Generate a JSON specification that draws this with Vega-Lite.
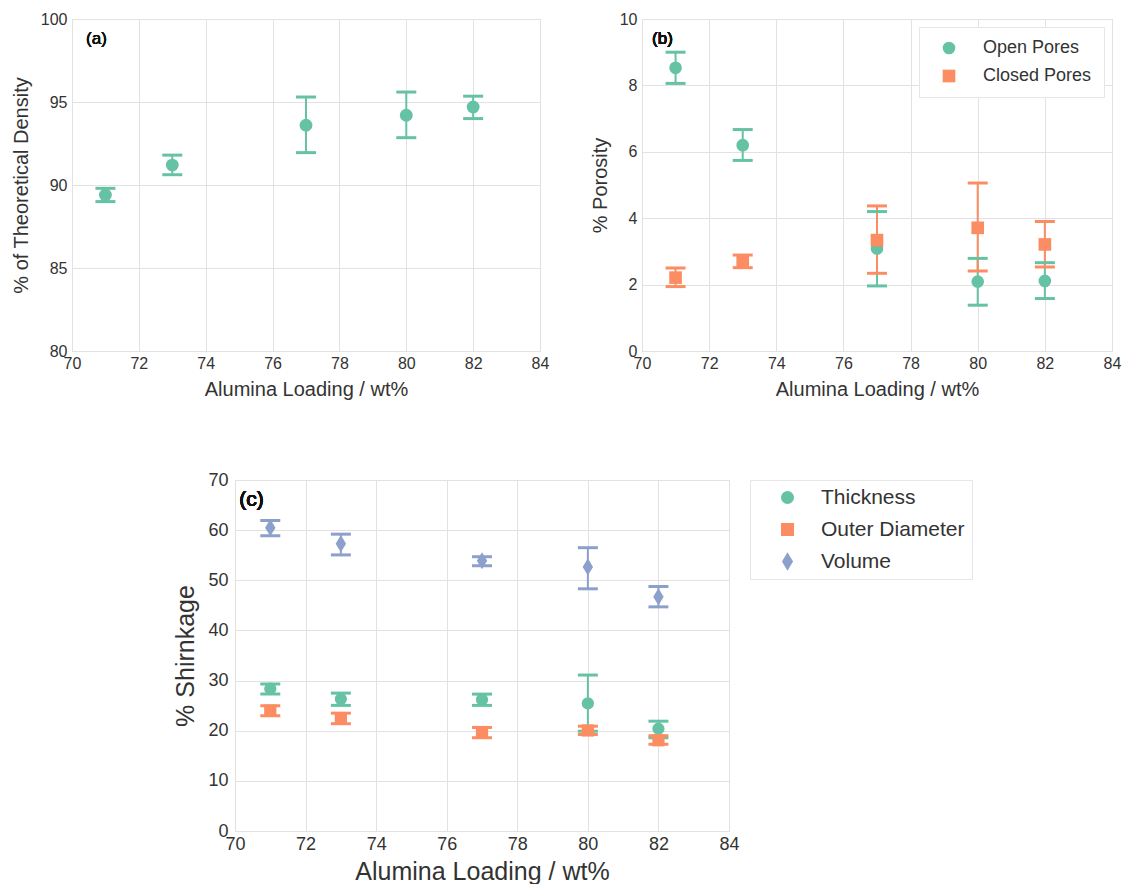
{
  "$schema": "https://vega.github.io/schema/vega-lite/v6.json",
  "padding": {"left": 10, "top": 10, "right": 5, "bottom": 5},
  "background": "white",
  "spacing": 70,
  "resolve": {"scale": {"color": "independent", "shape": "independent", "fill": "independent", "stroke": "independent"}, "legend": {"color": "independent", "shape": "independent"}},
  "vconcat": [
    {
      "resolve": {"scale": {"color": "independent", "shape": "independent", "fill": "independent", "stroke": "independent"}, "legend": {"color": "independent", "shape": "independent"}},
      "hconcat": [
        {
          "width": 468,
          "height": 332,
          "data": {"values": [
            {"x": 71, "y": 89.4, "lo": 89.0, "hi": 89.8},
            {"x": 73, "y": 91.2, "lo": 90.62, "hi": 91.8},
            {"x": 77, "y": 93.6, "lo": 91.95, "hi": 95.3},
            {"x": 80, "y": 94.2, "lo": 92.85, "hi": 95.6},
            {"x": 82, "y": 94.7, "lo": 94.0, "hi": 95.35}
          ]},
          "encoding": {
            "x": {"field": "x", "type": "quantitative", "scale": {"domain": [70, 84], "nice": false, "zero": false},
                  "axis": {"values": [70, 72, 74, 76, 78, 80, 82, 84], "title": "Alumina Loading / wt%", "labelFontSize": 16, "titleFontSize": 20, "labelPadding": 4, "titlePadding": 8}}
          },
          "layer": [
            {"mark": {"type": "rule", "strokeWidth": 2, "color": "#66c2a5"},
             "encoding": {"y": {"field": "lo", "type": "quantitative", "scale": {"domain": [80, 100], "nice": false, "zero": false},
                               "axis": {"values": [80, 85, 90, 95, 100], "title": "% of Theoretical Density", "labelFontSize": 16, "titleFontSize": 20, "labelPadding": 5, "titlePadding": 9}},
                          "y2": {"field": "hi"}}},
            {"mark": {"type": "tick", "orient": "horizontal", "size": 20, "thickness": 3, "color": "#66c2a5", "opacity": 1},
             "encoding": {"y": {"field": "lo", "type": "quantitative"}}},
            {"mark": {"type": "tick", "orient": "horizontal", "size": 20, "thickness": 3, "color": "#66c2a5", "opacity": 1},
             "encoding": {"y": {"field": "hi", "type": "quantitative"}}},
            {"mark": {"type": "point", "filled": true, "size": 165, "opacity": 1, "color": "#66c2a5", "shape": "circle"},
             "encoding": {"y": {"field": "y", "type": "quantitative"}}},
            {"mark": {"type": "text", "text": "(a)", "align": "left", "baseline": "middle", "font": "Liberation Sans", "fontWeight": "normal", "fontSize": 17, "color": "#111111"},
             "encoding": {"x": {"datum": 70.42, "type": "quantitative"}, "y": {"datum": 98.8, "type": "quantitative"}}}
          ]
        },
        {
          "width": 470,
          "height": 332,
          "data": {"values": [
            {"series": "Open Pores", "x": 71, "y": 8.53, "lo": 8.06, "hi": 9.0},
            {"series": "Open Pores", "x": 73, "y": 6.2, "lo": 5.74, "hi": 6.67},
            {"series": "Open Pores", "x": 77, "y": 3.09, "lo": 1.96, "hi": 4.2},
            {"series": "Open Pores", "x": 80, "y": 2.09, "lo": 1.38, "hi": 2.79},
            {"series": "Open Pores", "x": 82, "y": 2.11, "lo": 1.58, "hi": 2.66},
            {"series": "Closed Pores", "x": 71, "y": 2.21, "lo": 1.94, "hi": 2.5},
            {"series": "Closed Pores", "x": 73, "y": 2.7, "lo": 2.51, "hi": 2.89},
            {"series": "Closed Pores", "x": 77, "y": 3.34, "lo": 2.34, "hi": 4.37},
            {"series": "Closed Pores", "x": 80, "y": 3.71, "lo": 2.41, "hi": 5.06},
            {"series": "Closed Pores", "x": 82, "y": 3.21, "lo": 2.53, "hi": 3.9}
          ]},
          "encoding": {
            "x": {"field": "x", "type": "quantitative", "scale": {"domain": [70, 84], "nice": false, "zero": false},
                  "axis": {"values": [70, 72, 74, 76, 78, 80, 82, 84], "title": "Alumina Loading / wt%", "labelFontSize": 16, "titleFontSize": 20, "labelPadding": 4, "titlePadding": 8}}
          },
          "layer": [
            {"mark": {"type": "rule", "strokeWidth": 2},
             "encoding": {"y": {"field": "lo", "type": "quantitative", "scale": {"domain": [0, 10], "nice": false},
                               "axis": {"values": [0, 2, 4, 6, 8, 10], "title": "% Porosity", "labelFontSize": 16, "titleFontSize": 20, "labelPadding": 5, "titlePadding": 9}},
                          "y2": {"field": "hi"},
                          "stroke": {"field": "series", "type": "nominal", "scale": {"domain": ["Closed Pores", "Open Pores"], "range": ["#fc8d62", "#66c2a5"]}, "legend": null}}},
            {"mark": {"type": "tick", "orient": "horizontal", "size": 20, "thickness": 3, "opacity": 1},
             "encoding": {"y": {"field": "lo", "type": "quantitative"},
                          "fill": {"field": "series", "type": "nominal", "scale": {"domain": ["Closed Pores", "Open Pores"], "range": ["#fc8d62", "#66c2a5"]}, "legend": null}}},
            {"mark": {"type": "tick", "orient": "horizontal", "size": 20, "thickness": 3, "opacity": 1},
             "encoding": {"y": {"field": "hi", "type": "quantitative"},
                          "fill": {"field": "series", "type": "nominal", "legend": null}}},
            {"mark": {"type": "point", "filled": true, "size": 160, "opacity": 1},
             "encoding": {"y": {"field": "y", "type": "quantitative"},
                          "color": {"field": "series", "type": "nominal", "title": null,
                                    "scale": {"domain": ["Open Pores", "Closed Pores"], "range": ["#66c2a5", "#fc8d62"]},
                                    "legend": {"orient": "top-right", "offset": 8, "title": null, "symbolOffset": 9, "labelOffset": 25, "padding": 12, "rowPadding": 10, "labelFontSize": 18, "symbolSize": 160}},
                          "shape": {"field": "series", "type": "nominal", "title": null, "scale": {"domain": ["Open Pores", "Closed Pores"], "range": ["circle", "square"]}}}},
            {"mark": {"type": "text", "text": "(b)", "align": "left", "baseline": "middle", "font": "Liberation Sans", "fontWeight": "normal", "fontSize": 17, "color": "#111111"},
             "encoding": {"x": {"datum": 70.3, "type": "quantitative"}, "y": {"datum": 9.4, "type": "quantitative"}}}
          ]
        }
      ],
      "spacing": 102,
      "bounds": "flush"
    },
    {
      "resolve": {"scale": {"color": "independent", "shape": "independent", "fill": "independent", "stroke": "independent"}, "legend": {"color": "independent", "shape": "independent"}},
      "hconcat": [
        {
          "width": 163,
          "height": 10,
          "view": {"stroke": null},
          "data": {"values": []},
          "mark": "point",
          "encoding": {}
        },
        {
          "width": 494,
          "height": 351,
          "data": {"values": [
            {"series": "Thickness", "x": 71, "y": 28.37, "lo": 27.3, "hi": 29.3},
            {"series": "Thickness", "x": 73, "y": 26.3, "lo": 25.05, "hi": 27.5},
            {"series": "Thickness", "x": 77, "y": 26.2, "lo": 25.05, "hi": 27.3},
            {"series": "Thickness", "x": 80, "y": 25.45, "lo": 19.9, "hi": 31.1},
            {"series": "Thickness", "x": 82, "y": 20.4, "lo": 18.6, "hi": 21.9},
            {"series": "Outer Diameter", "x": 71, "y": 24.0, "lo": 23.0, "hi": 25.0},
            {"series": "Outer Diameter", "x": 73, "y": 22.4, "lo": 21.4, "hi": 23.5},
            {"series": "Outer Diameter", "x": 77, "y": 19.65, "lo": 18.6, "hi": 20.65},
            {"series": "Outer Diameter", "x": 80, "y": 20.05, "lo": 19.25, "hi": 20.9},
            {"series": "Outer Diameter", "x": 82, "y": 18.1, "lo": 17.3, "hi": 19.0},
            {"series": "Volume", "x": 71, "y": 60.5, "lo": 58.9, "hi": 61.9},
            {"series": "Volume", "x": 73, "y": 57.3, "lo": 55.06, "hi": 59.2},
            {"series": "Volume", "x": 77, "y": 53.9, "lo": 52.9, "hi": 54.7},
            {"series": "Volume", "x": 80, "y": 52.67, "lo": 48.3, "hi": 56.5},
            {"series": "Volume", "x": 82, "y": 46.7, "lo": 44.7, "hi": 48.76}
          ]},
          "encoding": {
            "x": {"field": "x", "type": "quantitative", "scale": {"domain": [70, 84], "nice": false, "zero": false},
                  "axis": {"values": [70, 72, 74, 76, 78, 80, 82, 84], "title": "Alumina Loading / wt%", "labelFontSize": 18, "titleFontSize": 25, "labelPadding": 4, "titlePadding": 6}}
          },
          "layer": [
            {"mark": {"type": "rule", "strokeWidth": 2},
             "encoding": {"y": {"field": "lo", "type": "quantitative", "scale": {"domain": [0, 70], "nice": false},
                               "axis": {"values": [0, 10, 20, 30, 40, 50, 60, 70], "title": "% Shirnkage", "labelFontSize": 18, "titleFontSize": 25, "labelPadding": 7, "titlePadding": 9}},
                          "y2": {"field": "hi"},
                          "stroke": {"field": "series", "type": "nominal", "scale": {"domain": ["Volume", "Thickness", "Outer Diameter"], "range": ["#8da0cb", "#66c2a5", "#fc8d62"]}, "legend": null}}},
            {"mark": {"type": "tick", "orient": "horizontal", "size": 20, "thickness": 3, "opacity": 1},
             "encoding": {"y": {"field": "lo", "type": "quantitative"},
                          "fill": {"field": "series", "type": "nominal", "scale": {"domain": ["Volume", "Thickness", "Outer Diameter"], "range": ["#8da0cb", "#66c2a5", "#fc8d62"]}, "legend": null}}},
            {"mark": {"type": "tick", "orient": "horizontal", "size": 20, "thickness": 3, "opacity": 1},
             "encoding": {"y": {"field": "hi", "type": "quantitative"},
                          "fill": {"field": "series", "type": "nominal", "legend": null}}},
            {"mark": {"type": "point", "filled": true, "size": 150, "opacity": 1},
             "encoding": {"y": {"field": "y", "type": "quantitative"},
                          "color": {"field": "series", "type": "nominal", "title": null,
                                    "scale": {"domain": ["Thickness", "Outer Diameter", "Volume"], "range": ["#66c2a5", "#fc8d62", "#8da0cb"]},
                                    "legend": {"orient": "right", "offset": 21, "title": null, "symbolOffset": 20, "labelOffset": 23, "padding": 7, "rowPadding": 10, "labelFontSize": 21, "symbolSize": 170}},
                          "shape": {"field": "series", "type": "nominal", "title": null, "scale": {"domain": ["Thickness", "Outer Diameter", "Volume"], "range": ["circle", "square", "M0,-1.4L0.85,0L0,1.4L-0.85,0Z"]}}}},
            {"mark": {"type": "text", "text": "(c)", "align": "left", "baseline": "middle", "font": "Liberation Sans", "fontWeight": "normal", "fontSize": 21, "color": "#111111"},
             "encoding": {"x": {"datum": 70.12, "type": "quantitative"}, "y": {"datum": 66.0, "type": "quantitative"}}}
          ]
        }
      ],
      "spacing": 0,
      "bounds": "flush"
    }
  ],
  "config": {
    "view": {"stroke": "#d4d4d4", "strokeWidth": 1},
    "axis": {"domain": false, "ticks": false, "grid": true, "gridColor": "#e2e2e2", "gridWidth": 1,
             "labelFont": "Liberation Sans", "titleFont": "Liberation Sans", "labelColor": "#333333", "titleColor": "#333333",
             "titleFontWeight": "normal", "labelFlush": false, "labelOverlap": false},
    "legend": {"labelFont": "Liberation Sans", "labelColor": "#333333", "fillColor": "white", "strokeColor": "#e6e6e6", "cornerRadius": 0}
  }
}
